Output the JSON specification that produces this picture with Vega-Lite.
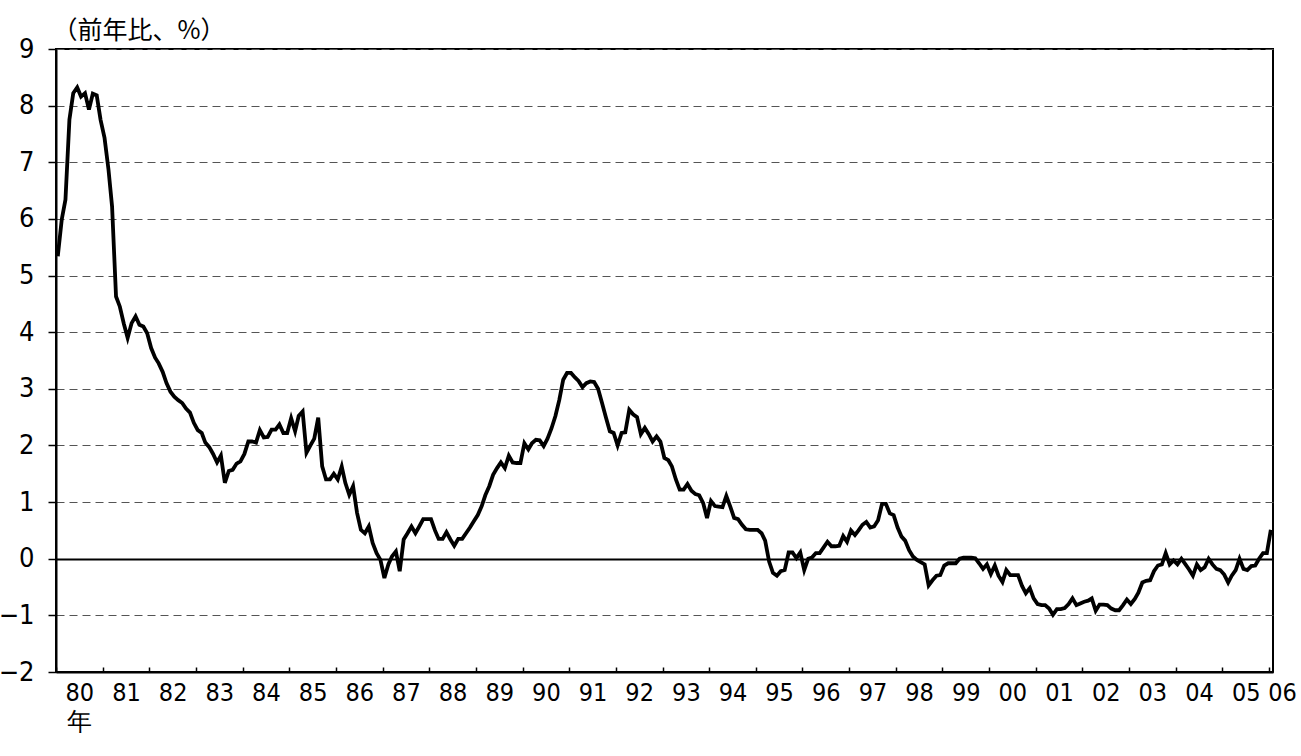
{
 "$schema": "https://vega.github.io/schema/vega-lite/v6.json",
 "width": 1217, "height": 623,
 "autosize": {"type": "none"},
 "padding": {"left": 56, "top": 49, "right": 28, "bottom": 84},
 "background": "white",
 "config": {"view": {"stroke": "black", "strokeWidth": 2}},
 "datasets": {"cpi": [
{"d":"1980-01-15","v":5.34},{"d":"1980-02-15","v":5.99},{"d":"1980-03-15","v":6.34},{"d":"1980-04-15","v":7.75},{"d":"1980-05-15","v":8.22},{"d":"1980-06-15","v":8.32},{"d":"1980-07-15","v":8.16},{"d":"1980-08-15","v":8.22},{"d":"1980-09-15","v":7.93},{"d":"1980-10-15","v":8.21},{"d":"1980-11-15","v":8.18},{"d":"1980-12-15","v":7.75},
{"d":"1981-01-15","v":7.43},{"d":"1981-02-15","v":6.87},{"d":"1981-03-15","v":6.22},{"d":"1981-04-15","v":4.63},{"d":"1981-05-15","v":4.45},{"d":"1981-06-15","v":4.15},{"d":"1981-07-15","v":3.9},{"d":"1981-08-15","v":4.16},{"d":"1981-09-15","v":4.28},{"d":"1981-10-15","v":4.13},{"d":"1981-11-15","v":4.1},{"d":"1981-12-15","v":3.98},
{"d":"1982-01-15","v":3.72},{"d":"1982-02-15","v":3.55},{"d":"1982-03-15","v":3.45},{"d":"1982-04-15","v":3.3},{"d":"1982-05-15","v":3.1},{"d":"1982-06-15","v":2.95},{"d":"1982-07-15","v":2.86},{"d":"1982-08-15","v":2.8},{"d":"1982-09-15","v":2.75},{"d":"1982-10-15","v":2.65},{"d":"1982-11-15","v":2.58},{"d":"1982-12-15","v":2.4},
{"d":"1983-01-15","v":2.27},{"d":"1983-02-15","v":2.22},{"d":"1983-03-15","v":2.05},{"d":"1983-04-15","v":1.97},{"d":"1983-05-15","v":1.85},{"d":"1983-06-15","v":1.7},{"d":"1983-07-15","v":1.82},{"d":"1983-08-15","v":1.34},{"d":"1983-09-15","v":1.55},{"d":"1983-10-15","v":1.57},{"d":"1983-11-15","v":1.68},{"d":"1983-12-15","v":1.72},
{"d":"1984-01-15","v":1.85},{"d":"1984-02-15","v":2.07},{"d":"1984-03-15","v":2.07},{"d":"1984-04-15","v":2.05},{"d":"1984-05-15","v":2.27},{"d":"1984-06-15","v":2.14},{"d":"1984-07-15","v":2.15},{"d":"1984-08-15","v":2.28},{"d":"1984-09-15","v":2.28},{"d":"1984-10-15","v":2.37},{"d":"1984-11-15","v":2.22},{"d":"1984-12-15","v":2.22},
{"d":"1985-01-15","v":2.48},{"d":"1985-02-15","v":2.25},{"d":"1985-03-15","v":2.52},{"d":"1985-04-15","v":2.6},{"d":"1985-05-15","v":1.87},{"d":"1985-06-15","v":2.0},{"d":"1985-07-15","v":2.12},{"d":"1985-08-15","v":2.49},{"d":"1985-09-15","v":1.63},{"d":"1985-10-15","v":1.4},{"d":"1985-11-15","v":1.4},{"d":"1985-12-15","v":1.5},
{"d":"1986-01-15","v":1.4},{"d":"1986-02-15","v":1.63},{"d":"1986-03-15","v":1.34},{"d":"1986-04-15","v":1.13},{"d":"1986-05-15","v":1.28},{"d":"1986-06-15","v":0.81},{"d":"1986-07-15","v":0.51},{"d":"1986-08-15","v":0.45},{"d":"1986-09-15","v":0.57},{"d":"1986-10-15","v":0.28},{"d":"1986-11-15","v":0.1},{"d":"1986-12-15","v":-0.02},
{"d":"1987-01-15","v":-0.34},{"d":"1987-02-15","v":-0.1},{"d":"1987-03-15","v":0.04},{"d":"1987-04-15","v":0.13},{"d":"1987-05-15","v":-0.22},{"d":"1987-06-15","v":0.34},{"d":"1987-07-15","v":0.45},{"d":"1987-08-15","v":0.57},{"d":"1987-09-15","v":0.45},{"d":"1987-10-15","v":0.57},{"d":"1987-11-15","v":0.7},{"d":"1987-12-15","v":0.7},
{"d":"1988-01-15","v":0.7},{"d":"1988-02-15","v":0.5},{"d":"1988-03-15","v":0.35},{"d":"1988-04-15","v":0.35},{"d":"1988-05-15","v":0.47},{"d":"1988-06-15","v":0.34},{"d":"1988-07-15","v":0.23},{"d":"1988-08-15","v":0.35},{"d":"1988-09-15","v":0.35},{"d":"1988-10-15","v":0.45},{"d":"1988-11-15","v":0.55},{"d":"1988-12-15","v":0.66},
{"d":"1989-01-15","v":0.77},{"d":"1989-02-15","v":0.93},{"d":"1989-03-15","v":1.12},{"d":"1989-04-15","v":1.28},{"d":"1989-05-15","v":1.48},{"d":"1989-06-15","v":1.6},{"d":"1989-07-15","v":1.7},{"d":"1989-08-15","v":1.6},{"d":"1989-09-15","v":1.82},{"d":"1989-10-15","v":1.7},{"d":"1989-11-15","v":1.69},{"d":"1989-12-15","v":1.69},
{"d":"1990-01-15","v":2.04},{"d":"1990-02-15","v":1.93},{"d":"1990-03-15","v":2.04},{"d":"1990-04-15","v":2.1},{"d":"1990-05-15","v":2.09},{"d":"1990-06-15","v":1.99},{"d":"1990-07-15","v":2.12},{"d":"1990-08-15","v":2.3},{"d":"1990-09-15","v":2.52},{"d":"1990-10-15","v":2.8},{"d":"1990-11-15","v":3.16},{"d":"1990-12-15","v":3.28},
{"d":"1991-01-15","v":3.28},{"d":"1991-02-15","v":3.2},{"d":"1991-03-15","v":3.14},{"d":"1991-04-15","v":3.03},{"d":"1991-05-15","v":3.1},{"d":"1991-06-15","v":3.13},{"d":"1991-07-15","v":3.12},{"d":"1991-08-15","v":3.0},{"d":"1991-09-15","v":2.75},{"d":"1991-10-15","v":2.5},{"d":"1991-11-15","v":2.25},{"d":"1991-12-15","v":2.22},
{"d":"1992-01-15","v":2.0},{"d":"1992-02-15","v":2.22},{"d":"1992-03-15","v":2.23},{"d":"1992-04-15","v":2.63},{"d":"1992-05-15","v":2.55},{"d":"1992-06-15","v":2.5},{"d":"1992-07-15","v":2.2},{"d":"1992-08-15","v":2.31},{"d":"1992-09-15","v":2.2},{"d":"1992-10-15","v":2.07},{"d":"1992-11-15","v":2.16},{"d":"1992-12-15","v":2.07},
{"d":"1993-01-15","v":1.78},{"d":"1993-02-15","v":1.74},{"d":"1993-03-15","v":1.63},{"d":"1993-04-15","v":1.4},{"d":"1993-05-15","v":1.22},{"d":"1993-06-15","v":1.22},{"d":"1993-07-15","v":1.32},{"d":"1993-08-15","v":1.2},{"d":"1993-09-15","v":1.14},{"d":"1993-10-15","v":1.12},{"d":"1993-11-15","v":0.98},{"d":"1993-12-15","v":0.72},
{"d":"1994-01-15","v":1.02},{"d":"1994-02-15","v":0.93},{"d":"1994-03-15","v":0.92},{"d":"1994-04-15","v":0.91},{"d":"1994-05-15","v":1.11},{"d":"1994-06-15","v":0.92},{"d":"1994-07-15","v":0.72},{"d":"1994-08-15","v":0.7},{"d":"1994-09-15","v":0.6},{"d":"1994-10-15","v":0.52},{"d":"1994-11-15","v":0.51},{"d":"1994-12-15","v":0.51},
{"d":"1995-01-15","v":0.51},{"d":"1995-02-15","v":0.45},{"d":"1995-03-15","v":0.32},{"d":"1995-04-15","v":-0.05},{"d":"1995-05-15","v":-0.25},{"d":"1995-06-15","v":-0.3},{"d":"1995-07-15","v":-0.22},{"d":"1995-08-15","v":-0.2},{"d":"1995-09-15","v":0.11},{"d":"1995-10-15","v":0.11},{"d":"1995-11-15","v":0.01},{"d":"1995-12-15","v":0.11},
{"d":"1996-01-15","v":-0.2},{"d":"1996-02-15","v":0.0},{"d":"1996-03-15","v":0.02},{"d":"1996-04-15","v":0.1},{"d":"1996-05-15","v":0.1},{"d":"1996-06-15","v":0.2},{"d":"1996-07-15","v":0.3},{"d":"1996-08-15","v":0.22},{"d":"1996-09-15","v":0.22},{"d":"1996-10-15","v":0.23},{"d":"1996-11-15","v":0.4},{"d":"1996-12-15","v":0.3},
{"d":"1997-01-15","v":0.5},{"d":"1997-02-15","v":0.42},{"d":"1997-03-15","v":0.5},{"d":"1997-04-15","v":0.6},{"d":"1997-05-15","v":0.65},{"d":"1997-06-15","v":0.55},{"d":"1997-07-15","v":0.57},{"d":"1997-08-15","v":0.68},{"d":"1997-09-15","v":0.97},{"d":"1997-10-15","v":0.97},{"d":"1997-11-15","v":0.8},{"d":"1997-12-15","v":0.77},
{"d":"1998-01-15","v":0.55},{"d":"1998-02-15","v":0.39},{"d":"1998-03-15","v":0.32},{"d":"1998-04-15","v":0.15},{"d":"1998-05-15","v":0.04},{"d":"1998-06-15","v":-0.02},{"d":"1998-07-15","v":-0.06},{"d":"1998-08-15","v":-0.1},{"d":"1998-09-15","v":-0.47},{"d":"1998-10-15","v":-0.38},{"d":"1998-11-15","v":-0.3},{"d":"1998-12-15","v":-0.29},
{"d":"1999-01-15","v":-0.12},{"d":"1999-02-15","v":-0.08},{"d":"1999-03-15","v":-0.08},{"d":"1999-04-15","v":-0.08},{"d":"1999-05-15","v":0.0},{"d":"1999-06-15","v":0.02},{"d":"1999-07-15","v":0.02},{"d":"1999-08-15","v":0.02},{"d":"1999-09-15","v":0.01},{"d":"1999-10-15","v":-0.08},{"d":"1999-11-15","v":-0.18},{"d":"1999-12-15","v":-0.1},
{"d":"2000-01-15","v":-0.27},{"d":"2000-02-15","v":-0.12},{"d":"2000-03-15","v":-0.3},{"d":"2000-04-15","v":-0.41},{"d":"2000-05-15","v":-0.2},{"d":"2000-06-15","v":-0.29},{"d":"2000-07-15","v":-0.29},{"d":"2000-08-15","v":-0.29},{"d":"2000-09-15","v":-0.48},{"d":"2000-10-15","v":-0.61},{"d":"2000-11-15","v":-0.52},{"d":"2000-12-15","v":-0.7},
{"d":"2001-01-15","v":-0.8},{"d":"2001-02-15","v":-0.82},{"d":"2001-03-15","v":-0.82},{"d":"2001-04-15","v":-0.88},{"d":"2001-05-15","v":-0.99},{"d":"2001-06-15","v":-0.89},{"d":"2001-07-15","v":-0.89},{"d":"2001-08-15","v":-0.87},{"d":"2001-09-15","v":-0.8},{"d":"2001-10-15","v":-0.7},{"d":"2001-11-15","v":-0.82},{"d":"2001-12-15","v":-0.79},
{"d":"2002-01-15","v":-0.76},{"d":"2002-02-15","v":-0.74},{"d":"2002-03-15","v":-0.7},{"d":"2002-04-15","v":-0.92},{"d":"2002-05-15","v":-0.81},{"d":"2002-06-15","v":-0.81},{"d":"2002-07-15","v":-0.82},{"d":"2002-08-15","v":-0.88},{"d":"2002-09-15","v":-0.91},{"d":"2002-10-15","v":-0.91},{"d":"2002-11-15","v":-0.82},{"d":"2002-12-15","v":-0.72},
{"d":"2003-01-15","v":-0.8},{"d":"2003-02-15","v":-0.71},{"d":"2003-03-15","v":-0.6},{"d":"2003-04-15","v":-0.42},{"d":"2003-05-15","v":-0.39},{"d":"2003-06-15","v":-0.38},{"d":"2003-07-15","v":-0.22},{"d":"2003-08-15","v":-0.12},{"d":"2003-09-15","v":-0.1},{"d":"2003-10-15","v":0.1},{"d":"2003-11-15","v":-0.1},{"d":"2003-12-15","v":-0.03},
{"d":"2004-01-15","v":-0.1},{"d":"2004-02-15","v":0.0},{"d":"2004-03-15","v":-0.09},{"d":"2004-04-15","v":-0.19},{"d":"2004-05-15","v":-0.3},{"d":"2004-06-15","v":-0.1},{"d":"2004-07-15","v":-0.2},{"d":"2004-08-15","v":-0.15},{"d":"2004-09-15","v":0.0},{"d":"2004-10-15","v":-0.1},{"d":"2004-11-15","v":-0.18},{"d":"2004-12-15","v":-0.2},
{"d":"2005-01-15","v":-0.28},{"d":"2005-02-15","v":-0.42},{"d":"2005-03-15","v":-0.3},{"d":"2005-04-15","v":-0.2},{"d":"2005-05-15","v":0.0},{"d":"2005-06-15","v":-0.18},{"d":"2005-07-15","v":-0.2},{"d":"2005-08-15","v":-0.13},{"d":"2005-09-15","v":-0.12},{"d":"2005-10-15","v":0.0},{"d":"2005-11-15","v":0.1},{"d":"2005-12-15","v":0.1},
{"d":"2006-01-15","v":0.51}
 ]},
 "data": {"name": "cpi"},
 "mark": {"type": "line", "color": "black", "strokeWidth": 3.8},
 "encoding": {
  "x": {
   "field": "d", "type": "temporal",
   "scale": {"type": "utc", "domain": [{"year": 1980, "month": 1, "date": 1, "utc": true}, {"year": 2006, "month": 2, "date": 1, "utc": true}]},
   "axis": {
    "title": null,
    "values": [
     {"year":1980,"month":1,"date":1,"utc":true},{"year":1981,"month":1,"date":1,"utc":true},{"year":1982,"month":1,"date":1,"utc":true},{"year":1983,"month":1,"date":1,"utc":true},{"year":1984,"month":1,"date":1,"utc":true},{"year":1985,"month":1,"date":1,"utc":true},{"year":1986,"month":1,"date":1,"utc":true},{"year":1987,"month":1,"date":1,"utc":true},{"year":1988,"month":1,"date":1,"utc":true},{"year":1989,"month":1,"date":1,"utc":true},{"year":1990,"month":1,"date":1,"utc":true},{"year":1991,"month":1,"date":1,"utc":true},{"year":1992,"month":1,"date":1,"utc":true},{"year":1993,"month":1,"date":1,"utc":true},{"year":1994,"month":1,"date":1,"utc":true},{"year":1995,"month":1,"date":1,"utc":true},{"year":1996,"month":1,"date":1,"utc":true},{"year":1997,"month":1,"date":1,"utc":true},{"year":1998,"month":1,"date":1,"utc":true},{"year":1999,"month":1,"date":1,"utc":true},{"year":2000,"month":1,"date":1,"utc":true},{"year":2001,"month":1,"date":1,"utc":true},{"year":2002,"month":1,"date":1,"utc":true},{"year":2003,"month":1,"date":1,"utc":true},{"year":2004,"month":1,"date":1,"utc":true},{"year":2005,"month":1,"date":1,"utc":true},{"year":2006,"month":1,"date":1,"utc":true}
    ],
    "labelExpr": "utcyear(datum.value) == 1980 ? ['80', '年'] : utcFormat(datum.value, '%y')",
    "labelOffset": {"condition": {"test": "utcyear(datum.value) == 2006", "value": 13}, "value": 23.3},
    "tickSize": -5, "tickColor": "black", "tickWidth": 1.5,
    "domainColor": "black", "domainWidth": 2,
    "grid": false,
    "labelFont": "Liberation Sans Narrow, DejaVu Sans Condensed, Liberation Sans", "labelFontSize": 25, "labelColor": "black",
    "labelBaseline": "top", "labelAlign": "center", "labelPadding": 13, "labelLineHeight": 29,
    "labelOverlap": false, "labelBound": false, "labelFlush": false
   }
  },
  "y": {
   "field": "v", "type": "quantitative",
   "scale": {"domain": [-2, 9], "nice": false, "zero": false},
   "axis": {
    "values": [-2, -1, 0, 1, 2, 3, 4, 5, 6, 7, 8, 9],
    "tickSize": 8, "tickColor": "black", "tickWidth": 1.5,
    "domainColor": "black", "domainWidth": 2,
    "grid": true,
    "gridColor": {"condition": {"test": "datum.value === 0", "value": "black"}, "value": "#555555"},
    "gridDash": {"condition": {"test": "datum.value === 0", "value": []}, "value": [8, 5]},
    "gridWidth": {"condition": {"test": "datum.value === 0", "value": 2}, "value": 1},
    "labelFont": "Liberation Sans Narrow, DejaVu Sans Condensed, Liberation Sans", "labelFontSize": 27, "labelColor": "black", "labelPadding": 14,
    "labelFlush": false, "labelBound": false, "labelOverlap": false,
    "title": "（前年比、%）", "titleAngle": 0, "titleAlign": "left", "titleBaseline": "middle",
    "titleX": -4, "titleY": -19, "titleFont": "Noto Sans CJK JP", "titleFontSize": 25,
    "titleFontWeight": "normal", "titleColor": "black"
   }
  }
 }
}
